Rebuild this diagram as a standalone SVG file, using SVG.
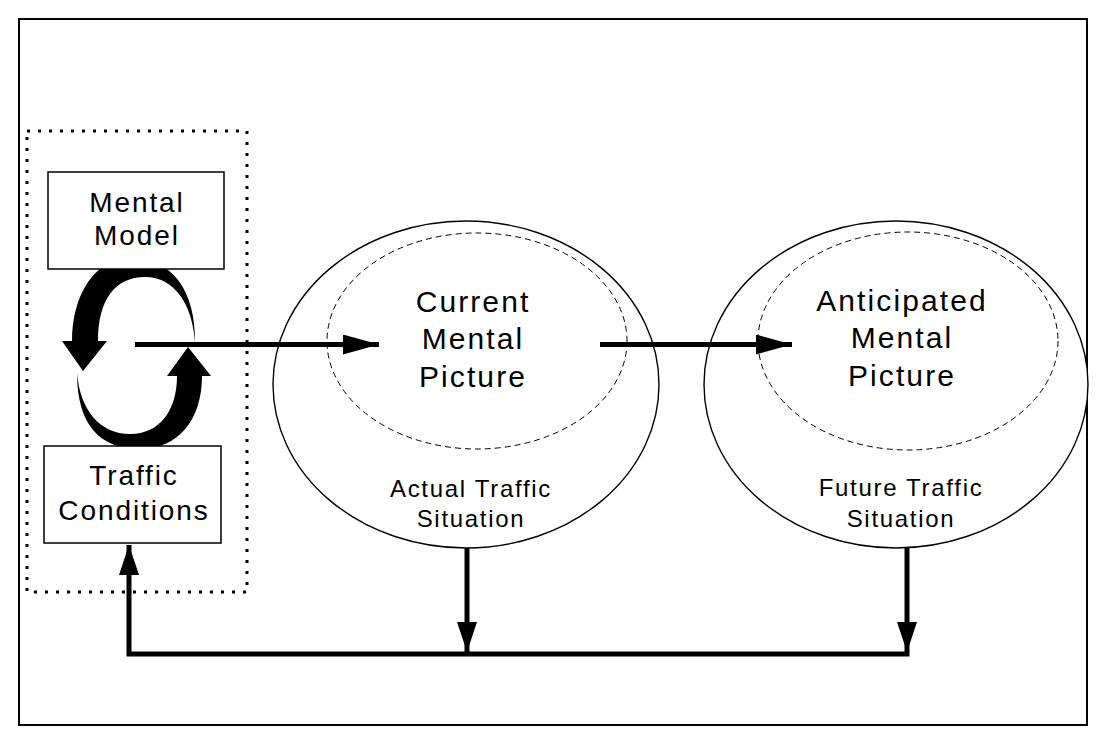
<svg xmlns="http://www.w3.org/2000/svg" width="1106" height="742" viewBox="0 0 1106 742">
<defs>
<style>
.t{font-family:"Liberation Sans",Arial,Helvetica,sans-serif;fill:#000;text-anchor:middle}
.big{font-size:30px;letter-spacing:2.1px}
.box{font-size:28px;letter-spacing:1.9px}
.sm{font-size:24px;letter-spacing:1.7px}
.node{fill:#fff;stroke:#000;stroke-width:1.5}
.oval{fill:#fff;stroke:#000;stroke-width:1.4}
.dash{fill:none;stroke:#000;stroke-width:1;stroke-dasharray:6 4}
.conn{fill:none;stroke:#000;stroke-width:5}
</style>
<marker id="ah" viewBox="0 0 36 20" refX="36" refY="10" markerWidth="36" markerHeight="20" markerUnits="userSpaceOnUse" orient="auto">
<path d="M0,0 L36,10 L0,20 Z" fill="#000"/>
</marker>
<marker id="av" viewBox="0 0 30 20" refX="30" refY="10" markerWidth="30" markerHeight="20" markerUnits="userSpaceOnUse" orient="auto">
<path d="M0,0 L30,10 L0,20 Z" fill="#000"/>
</marker>
</defs>
<rect x="0" y="0" width="1106" height="742" fill="#fff"/>
<rect x="19" y="19" width="1068" height="706" fill="none" stroke="#000" stroke-width="2"/>

<g id="group-box">
<rect x="27" y="131" width="220" height="461" fill="none" stroke="#000" stroke-width="3" stroke-dasharray="3 8"/>
</g>

<g id="cycle">
<path d="M195,344 C196,290 172,258 130,258 C95,258 72,295 72,341 L62,341 L83,371 L107,341 L98,341 C98,300 115,277 145,277 C175,277 193,305 195,344 Z" fill="#000"/>
<path d="M77,373 C77,425 100,449 140,449 C178,449 202,420 202,376 L211,376 L188,347 L167,376 L177,376 C177,410 160,434 130,434 C100,434 80,410 77,373 Z" fill="#000"/>
</g>

<g id="current">
<ellipse class="oval" cx="466" cy="384.5" rx="193" ry="163.5"/>
<ellipse class="dash" cx="477" cy="341" rx="150" ry="108"/>
<text class="t big" x="473" y="312">Current</text>
<text class="t big" x="473" y="349">Mental</text>
<text class="t big" x="473" y="387">Picture</text>
<text class="t sm" x="471" y="497">Actual Traffic</text>
<text class="t sm" x="471" y="527">Situation</text>
</g>

<g id="anticipated">
<ellipse class="oval" cx="896" cy="384.5" rx="192" ry="163.5"/>
<ellipse class="dash" cx="908" cy="341" rx="150" ry="109"/>
<text class="t big" x="902" y="311">Anticipated</text>
<text class="t big" x="902" y="348">Mental</text>
<text class="t big" x="902" y="386">Picture</text>
<text class="t sm" x="901" y="496">Future Traffic</text>
<text class="t sm" x="901" y="527">Situation</text>
</g>

<g id="mental-model">
<rect class="node" x="48" y="172" width="176" height="97"/>
<text class="t box" x="137" y="212">Mental</text>
<text class="t box" x="137" y="245">Model</text>
</g>

<g id="traffic-conditions">
<rect class="node" x="44" y="446" width="177" height="97"/>
<text class="t box" x="134" y="485">Traffic</text>
<text class="t box" x="134" y="520">Conditions</text>
</g>

<g id="connectors">
<path class="conn" d="M135,344.5 L379,344.5" marker-end="url(#ah)"/>
<path class="conn" d="M600,344.5 L792,344.5" marker-end="url(#ah)"/>
<path class="conn" d="M467,548 L467,652" marker-end="url(#av)"/>
<path class="conn" d="M907,548 L907,652" marker-end="url(#av)"/>
<path class="conn" d="M909.5,654 L129,654 L129,545" marker-end="url(#av)"/>
</g>
</svg>
